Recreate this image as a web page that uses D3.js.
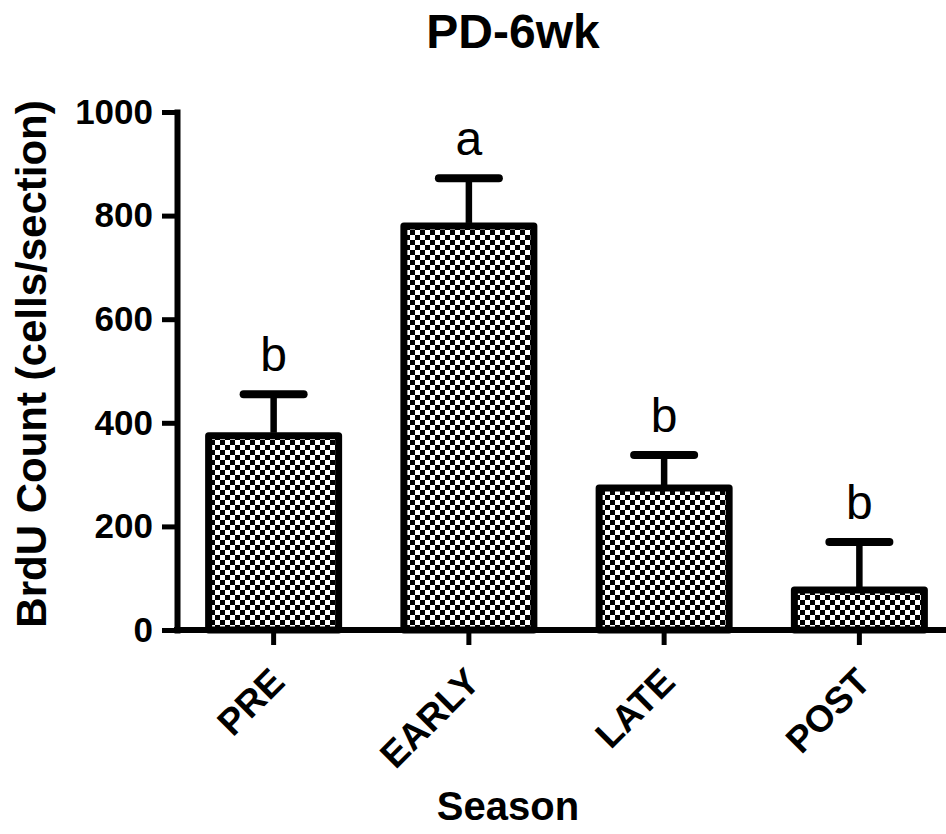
<!DOCTYPE html>
<html>
<head>
<meta charset="utf-8">
<script src="https://cdn.jsdelivr.net/npm/d3@7"></script>
<style>
body { margin: 0; background: #fff; }
text { font-family: "Liberation Sans", Arial, sans-serif; }
</style>
</head>
<body>
<div id="chart"></div>
<script>
// values
var seasons = ["PRE", "EARLY", "LATE", "POST"];
var means = [375, 780, 274, 77];
var sems = [80, 92, 64, 93];
var groupLetters = ["b", "a", "b", "b"];
var yTicks = [0, 200, 400, 600, 800, 1000];

var width = 946, height = 834;

var svg = d3.select("#chart").append("svg")
	.attr("width", width)
	.attr("height", height);

// checker fill like the prism bars
var defs = svg.append("defs");
var pat = defs.append("pattern")
	.attr("id", "checker")
	.attr("patternUnits", "userSpaceOnUse")
	.attr("width", 10).attr("height", 10);
pat.append("rect").attr("width", 10).attr("height", 10).attr("fill", "#fff");
pat.append("rect").attr("width", 5).attr("height", 5).attr("fill", "#000");
pat.append("rect").attr("x", 5).attr("y", 5).attr("width", 5).attr("height", 5).attr("fill", "#000");

var y = d3.scaleLinear().domain([0, 1000]).range([630, 112]);
var x = d3.scaleBand().domain(seasons).range([176, 957]).paddingInner(0.3).paddingOuter(0.15);

// bars
var bw = 130;
svg.append("g").selectAll("rect")
	.data(seasons)
	.enter().append("rect")
	.attr("x", function(d) { return x(d) + x.bandwidth() / 2 - bw / 2; })
	.attr("y", function(d, i) { return y(means[i]); })
	.attr("width", bw)
	.attr("height", function(d, i) { return y(0) - y(means[i]); })
	.attr("fill", "url(#checker)")
	.attr("stroke", "#000")
	.attr("stroke-width", 7)
	.attr("stroke-linejoin", "round");

// error bars (upper only)
var eb = svg.append("g").attr("stroke", "#000").attr("stroke-linecap", "round");
seasons.forEach(function(d, i) {
	var cx = x(d) + x.bandwidth() / 2;
	eb.append("line")
		.attr("x1", cx).attr("x2", cx)
		.attr("y1", y(means[i]) - 3).attr("y2", y(means[i] + sems[i]))
		.attr("stroke-width", 6.5)
		.attr("stroke-linecap", "butt");
	eb.append("line")
		.attr("x1", cx - 30).attr("x2", cx + 30)
		.attr("y1", y(means[i] + sems[i])).attr("y2", y(means[i] + sems[i]))
		.attr("stroke-width", 8);
	svg.append("text")
		.attr("x", cx)
		.attr("y", y(means[i] + sems[i]) - 23)
		.attr("text-anchor", "middle")
		.attr("font-size", 48)
		.text(groupLetters[i]);
});

// y axis
var yAxis = d3.axisLeft(y).tickValues(yTicks).tickFormat(d3.format("d"))
	.tickSize(15).tickSizeOuter(0).tickPadding(9);
var gy = svg.append("g").attr("transform", "translate(177,0)").call(yAxis);
gy.select(".domain").attr("stroke-width", 6).attr("stroke-linecap", "square");
gy.selectAll(".tick line").attr("stroke-width", 5);
gy.selectAll(".tick text")
	.attr("font-size", 35)
	.attr("font-weight", "bold")
	.attr("font-family", "Liberation Sans, Arial, sans-serif")
	.attr("fill", "#000");

// x axis
var xAxis = d3.axisBottom(x).tickSize(15).tickSizeOuter(0);
var gx = svg.append("g").attr("transform", "translate(0,630)").call(xAxis);
gx.select(".domain").attr("d", "M174,0H946").attr("stroke-width", 6);
gx.selectAll(".tick line").attr("stroke-width", 5);
gx.selectAll(".tick text")
	.attr("font-size", 37)
	.attr("font-weight", "bold")
	.attr("font-family", "Liberation Sans, Arial, sans-serif")
	.attr("fill", "#000")
	.attr("text-anchor", "end")
	.attr("y", 0).attr("dy", 0)
	.attr("transform", "translate(13,54) rotate(-45)");

// titles
svg.append("text")
	.attr("x", 513).attr("y", 48)
	.attr("text-anchor", "middle")
	.attr("font-size", 48)
	.attr("font-weight", "bold")
	.text("PD-6wk");

svg.append("text")
	.attr("transform", "translate(46,364) rotate(-90)")
	.attr("text-anchor", "middle")
	.attr("font-size", 42)
	.attr("font-weight", "bold")
	.text("BrdU Count (cells/section)");

svg.append("text")
	.attr("x", 508).attr("y", 820)
	.attr("text-anchor", "middle")
	.attr("font-size", 40)
	.attr("font-weight", "bold")
	.text("Season");
</script>
</body>
</html>
